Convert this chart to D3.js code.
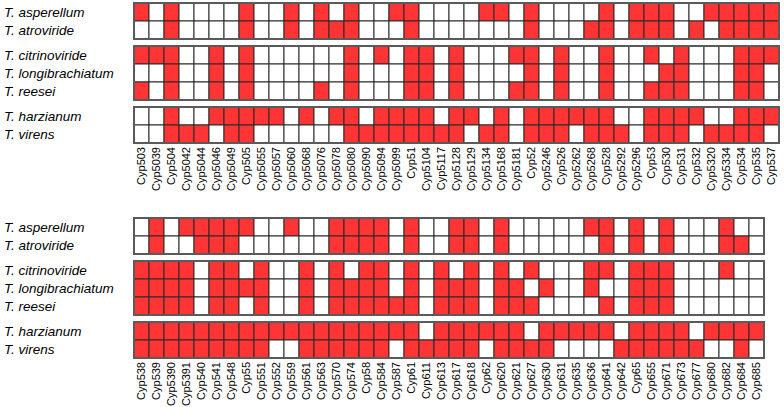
<!DOCTYPE html>
<html>
<head>
<meta charset="utf-8">
<script src="https://cdn.jsdelivr.net/npm/d3@7"></script>
<style>
    body { margin: 0; background: #fff; }
    svg { display: block; }
    text { font-family: Arial, "Liberation Sans", sans-serif; }
</style>
</head>
<body>
<svg id="chart" width="784" height="407"></svg>
<script>

//species (row labels), in drawing order
var species = ["T. asperellum", "T. atroviride", "T. citrinoviride", "T. longibrachiatum",
    "T. reesei", "T. harzianum", "T. virens"];
//row groups (index into species)
var groups = [[0, 1], [2, 3, 4], [5, 6]];

//upper panel families
var topFamilies = ["Cyp503", "Cyp5039", "Cyp504", "Cyp5042", "Cyp5044", "Cyp5046", "Cyp5049",
    "Cyp505", "Cyp5055", "Cyp5057", "Cyp5060", "Cyp5068", "Cyp5076", "Cyp5078", "Cyp5080",
    "Cyp5090", "Cyp5094", "Cyp5099", "Cyp51", "Cyp5104", "Cyp5117", "Cyp5128", "Cyp5129",
    "Cyp5134", "Cyp5168", "Cyp5181", "Cyp52", "Cyp5246", "Cyp526", "Cyp5262", "Cyp5268",
    "Cyp528", "Cyp5292", "Cyp5296", "Cyp53", "Cyp530", "Cyp531", "Cyp532", "Cyp5320",
    "Cyp5334", "Cyp534", "Cyp535", "Cyp537"];

//presence (1) / absence (0), one string per species
var topPresence = [
    "1010000100101010011000011010000101110011111", // asperellum
    "0010000100101110001000000010001101110101111", // atroviride
    "1110010100000010101101000110100100101000111", // citrinoviride
    "0010010100000010001101000010100100011000110", // longibrachiatum
    "1010010100001010001101000110100100111000110", // reesei
    "0010011111010110111101101011111100111100111", // harzianum
    "0011101100000011111111011011101110111011110"  // virens
];

//lower panel families
var bottomFamilies = ["Cyp538", "Cyp539", "Cyp5390", "Cyp5391", "Cyp540", "Cyp541", "Cyp548",
    "Cyp55", "Cyp551", "Cyp552", "Cyp559", "Cyp561", "Cyp563", "Cyp570", "Cyp574", "Cyp58",
    "Cyp584", "Cyp587", "Cyp61", "Cyp611", "Cyp613", "Cyp617", "Cyp618", "Cyp62", "Cyp620",
    "Cyp621", "Cyp627", "Cyp630", "Cyp631", "Cyp635", "Cyp636", "Cyp641", "Cyp642", "Cyp65",
    "Cyp655", "Cyp671", "Cyp673", "Cyp677", "Cyp680", "Cyp682", "Cyp684", "Cyp685"];

var bottomPresence = [
    "010111110010011110100110100000110101000100", // asperellum
    "010011100000011110100110100000010101000110", // atroviride
    "111101101001010110101010101000110111000100", // citrinoviride
    "111101111001011110101110110100100111000000", // longibrachiatum
    "111101101001011111101110111000010111000000", // reesei
    "111111111111111111101111110111110111101111", // harzianum
    "111111111001111110111110111100001111110010"  // virens
];

var svg = d3.select("#chart");

var cellW = 15;
var rowH = 18;
var groupGap = 7;
var left = 134;
var red = "#ff3434";

drawPanel(topFamilies, topPresence, 3);
drawPanel(bottomFamilies, bottomPresence, 218);

//draws one panel: species labels, grouped grid of cells, rotated family labels
function drawPanel(families, presence, top) {

    var g = svg.append("g");

    var x = d3.scaleBand()
        .domain(families)
        .range([left, left + cellW * families.length]);

    var y0 = top;
    groups.forEach(function (grp) {

        var y = d3.scaleBand()
            .domain(grp)
            .range([y0, y0 + rowH * grp.length]);

        //cells
        grp.forEach(function (s) {
            var bits = presence[s].split("").map(Number);
            g.selectAll(null)
                .data(families)
                .enter().append("rect")
                .attr("x", function (d) { return x(d); })
                .attr("y", y(s))
                .attr("width", x.bandwidth())
                .attr("height", y.bandwidth())
                .attr("fill", function (d, i) { return bits[i] ? red : "#fff"; })
                .attr("stroke", "#2a2a2a")
                .attr("stroke-width", 1);

            //species label
            g.append("text")
                .attr("x", 4)
                .attr("y", y(s) + y.bandwidth() / 2)
                .attr("dy", "0.36em")
                .style("font-size", "13.5px")
                .style("font-style", "italic")
                .text(species[s]);
        });

        //outer frame of the group
        g.append("rect")
            .attr("x", x.range()[0])
            .attr("y", y.range()[0])
            .attr("width", x.range()[1] - x.range()[0])
            .attr("height", y.range()[1] - y.range()[0])
            .attr("fill", "none")
            .attr("stroke", "#5a5a5a")
            .attr("stroke-width", 2);

        y0 += rowH * grp.length + groupGap;
    });

    //family labels (rotated, reading upward)
    var labelTop = y0 - groupGap + 4;
    g.selectAll(".fam")
        .data(families)
        .enter().append("text")
        .attr("class", "fam")
        .attr("transform", function (d) {
            return "translate(" + (x(d) + x.bandwidth() / 2) + "," + labelTop + ") rotate(-90)";
        })
        .attr("dy", "0.36em")
        .attr("text-anchor", "end")
        .style("font-size", "11px")
        .text(function (d) { return d; });
}

</script>
</body>
</html>
